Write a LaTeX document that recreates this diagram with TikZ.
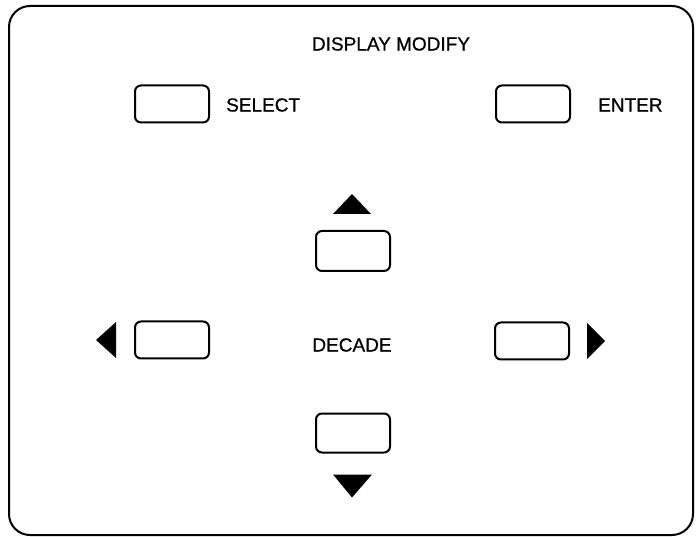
\documentclass[tikz,border=0pt]{standalone}
\usepackage{fontspec}
\setmainfont{Liberation Sans}
\newfontfamily\panelfont[FakeBold=0.7]{Liberation Sans}
\begin{document}
\begin{tikzpicture}[x=1pt,y=-1pt,
  key/.style={draw,line width=2pt,rounded corners=6pt,minimum width=74pt,minimum height=37pt,inner sep=0pt},
  lbl/.style={inner sep=0pt,font=\panelfont\fontsize{19}{22}\selectfont},
  tri/.style={fill=black}]
\useasboundingbox (0,0) rectangle (699,537);
\draw[line width=2pt,rounded corners=21pt] (9,6) rectangle (693,535);
\node[lbl] (title) at (391,44) {DISPLAY MODIFY};
\node[key] (select) at (172,104) {};
\node[lbl,anchor=west] (selectlbl) at (226,105) {SELECT};
\node[key] (enter) at (533,104) {};
\node[lbl,anchor=west] (enterlbl) at (598,105) {ENTER};
\node[key,minimum height=40pt] (up) at (353,251) {};
\node[key,minimum height=39pt] (down) at (353,433) {};
\node[key] (left) at (172,340) {};
\node[key] (right) at (532,341) {};
\node[lbl] (decade) at (352,345) {DECADE};
% direction triangles
\fill[tri] ([xshift=-20pt,yshift=16pt]up.north) -- ([xshift=18pt,yshift=16pt]up.north) -- ([xshift=-1pt,yshift=36pt]up.north) -- cycle;
\fill[tri] ([xshift=-20pt,yshift=-21pt]down.south) -- ([xshift=19pt,yshift=-21pt]down.south) -- ([xshift=-1pt,yshift=-44pt]down.south) -- cycle;
\fill[tri] ([xshift=-18pt,yshift=-18pt]left.west) -- ([xshift=-18pt,yshift=18pt]left.west) -- ([xshift=-38pt]left.west) -- cycle;
\fill[tri] ([xshift=17pt,yshift=-18pt]right.east) -- ([xshift=17pt,yshift=18pt]right.east) -- ([xshift=35pt]right.east) -- cycle;
\end{tikzpicture}
\end{document}
